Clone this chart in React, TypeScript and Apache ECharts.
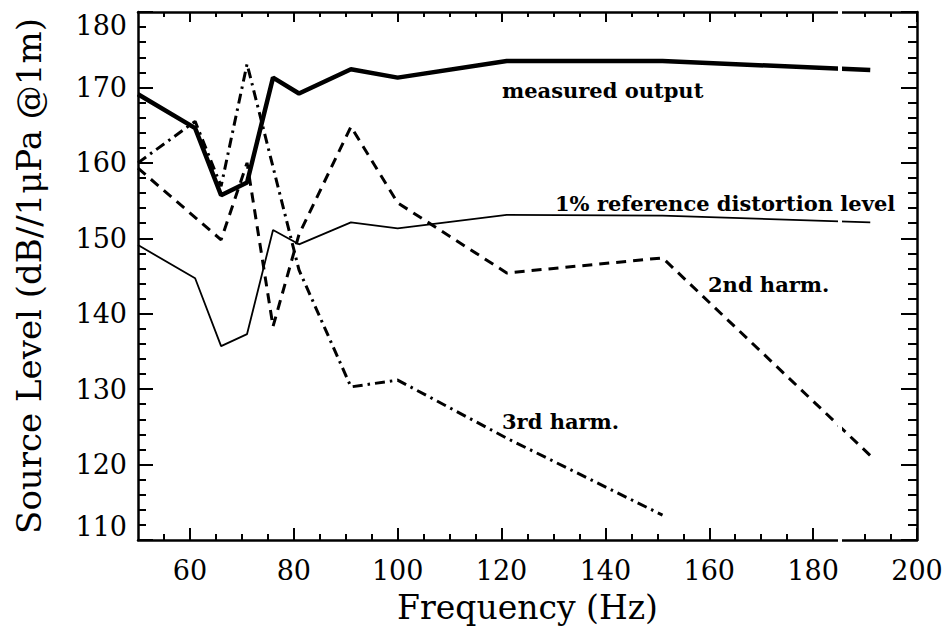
import React, { useEffect, useRef } from 'react';
import * as echarts from 'echarts';

// Frequencies (Hz) and source levels (dB)
const measuredFreq = [50, 61, 66, 71, 76, 81, 91, 100, 121, 151, 191];
const measuredLevel = [169.1, 164.6, 155.7, 157.4, 171.3, 169.2, 172.4, 171.3, 173.5, 173.5, 172.3];
const referenceLevel = [149.1, 144.7, 135.7, 137.3, 151.1, 149.2, 152.1, 151.3, 153.1, 153.0, 152.1];

const harm2Freq = [50, 66, 71, 76, 81, 91, 100, 121, 151, 191];
const harm2Level = [159.3, 149.8, 160.0, 138.3, 150.5, 164.8, 154.7, 145.4, 147.4, 121.2];

const harm3Freq = [50, 61, 66, 71, 81, 91, 100, 121, 151];
const harm3Level = [160.0, 165.5, 156.9, 173.1, 145.8, 130.3, 131.2, 123.5, 113.3];

const xMajorTicks = [60, 80, 100, 120, 140, 160, 180, 200];
const xMinorTicks = [55, 65, 70, 75, 85, 90, 95, 105, 110, 115, 125, 130, 135, 145, 150, 155, 165, 170, 175, 185, 190, 195];
const yMajorTicks = [110, 120, 130, 140, 150, 160, 170, 180];
const yMinorTicks = [112, 114, 116, 118, 122, 124, 126, 128, 132, 134, 136, 138, 142, 144, 146, 148, 152, 154, 156, 158, 162, 164, 166, 168, 172, 174, 176, 178];

const FONT = "'DejaVu Serif', serif";

const pairs = (xs: number[], ys: number[]) => xs.map((x, i) => [x, ys[i]]);

export default function App() {
  const ref = useRef<HTMLDivElement>(null);
  useEffect(() => {
    if (!ref.current) return;
    const chart = echarts.init(ref.current, undefined, { renderer: 'svg' });
    const lineCol = '#000';
    const xRange = { type: 'value', min: 50, max: 200, splitLine: { show: false } };
    const yRange = { type: 'value', min: 110, max: 180, interval: 10, splitLine: { show: false } };
    const frameLine = { show: true, onZero: false, lineStyle: { color: lineCol, width: 2.5 } };
    // tick-only axes shifted into the plot, so their outward ticks end on the frame (inward ticks)
    const tickAxis = (range: any, position: string, values: number[], len: number) => ({
      ...range,
      position,
      offset: -len,
      axisLine: { show: false, onZero: false },
      axisLabel: { show: false },
      axisTick: { show: true, inside: false, length: len, customValues: values, lineStyle: { color: lineCol, width: 2 } },
    });
    const option: any = {
      animation: false,
      backgroundColor: '#fff',
      grid: { left: 138, right: 34, top: 12, bottom: 90, outerBoundsMode: 'none' },
      xAxis: [
        {
          ...xRange,
          position: 'bottom',
          name: 'Frequency (Hz)',
          nameLocation: 'middle',
          nameGap: 51,
          nameTextStyle: { fontFamily: FONT, fontSize: 33, color: '#000' },
          axisLine: frameLine,
          axisTick: { show: false },
          axisLabel: { show: true, customValues: xMajorTicks, margin: 17, fontFamily: FONT, fontSize: 27, color: '#000' },
        },
        {
          ...xRange,
          position: 'top',
          axisLine: frameLine,
          axisTick: { show: false },
          axisLabel: { show: false },
        },
        tickAxis(xRange, 'bottom', xMajorTicks, 12),
        tickAxis(xRange, 'bottom', xMinorTicks, 6),
        tickAxis(xRange, 'top', xMajorTicks, 10),
        tickAxis(xRange, 'top', xMinorTicks, 5),
      ],
      yAxis: [
        {
          ...yRange,
          position: 'left',
          name: 'Source Level (dB//1\u03bcPa @1m)',
          nameLocation: 'middle',
          nameGap: 92,
          nameTextStyle: { fontFamily: FONT, fontSize: 34, color: '#000' },
          axisLine: frameLine,
          axisTick: { show: false },
          axisLabel: {
            show: true,
            margin: 11,
            fontFamily: FONT,
            fontSize: 27,
            color: '#000',
            verticalAlignMaxLabel: 'top',
            verticalAlignMinLabel: 'bottom',
          },
        },
        {
          ...yRange,
          position: 'right',
          axisLine: frameLine,
          axisTick: { show: false },
          axisLabel: { show: false },
        },
        tickAxis(yRange, 'left', yMajorTicks, 15),
        tickAxis(yRange, 'left', yMinorTicks, 8),
        tickAxis(yRange, 'right', yMajorTicks, 16),
        tickAxis(yRange, 'right', yMinorTicks, 9),
      ],
      series: [
        {
          name: 'measured output',
          type: 'line',
          data: pairs(measuredFreq, measuredLevel),
          showSymbol: false,
          lineStyle: { color: '#000', width: 4.5, type: 'solid' },
        },
        {
          name: '1% reference distortion level',
          type: 'line',
          data: pairs(measuredFreq, referenceLevel),
          showSymbol: false,
          lineStyle: { color: '#000', width: 1.8, type: 'solid' },
        },
        {
          name: '2nd harm.',
          type: 'line',
          data: pairs(harm2Freq, harm2Level),
          showSymbol: false,
          lineStyle: { color: '#000', width: 3, type: [10, 7] },
        },
        {
          name: '3rd harm.',
          type: 'line',
          data: pairs(harm3Freq, harm3Level),
          showSymbol: false,
          lineStyle: { color: '#000', width: 3, type: [10, 5, 2.5, 5] },
        },
      ],
      graphic: [
        { type: 'rect', shape: { x: 838, y: 8, width: 4, height: 536 }, style: { fill: '#fff' }, z: 100 },
        { type: 'text', x: 502, y: 90, style: { text: 'measured output', font: `bold 21px ${FONT}`, fill: '#000', textAlign: 'left', textVerticalAlign: 'middle' }, z: 101 },
        { type: 'text', x: 555, y: 203, style: { text: '1% reference distortion level', font: `bold 21px ${FONT}`, fill: '#000', textAlign: 'left', textVerticalAlign: 'middle' }, z: 101 },
        { type: 'text', x: 708, y: 284, style: { text: '2nd harm.', font: `bold 21px ${FONT}`, fill: '#000', textAlign: 'left', textVerticalAlign: 'middle' }, z: 101 },
        { type: 'text', x: 502, y: 421, style: { text: '3rd harm.', font: `bold 21px ${FONT}`, fill: '#000', textAlign: 'left', textVerticalAlign: 'middle' }, z: 101 },
      ],
    };
    chart.setOption(option);
    return () => chart.dispose();
  }, []);
  return <div ref={ref} style={{ position: 'fixed', left: 0, top: 0, width: 951, height: 630, background: '#fff' }} />;
}
